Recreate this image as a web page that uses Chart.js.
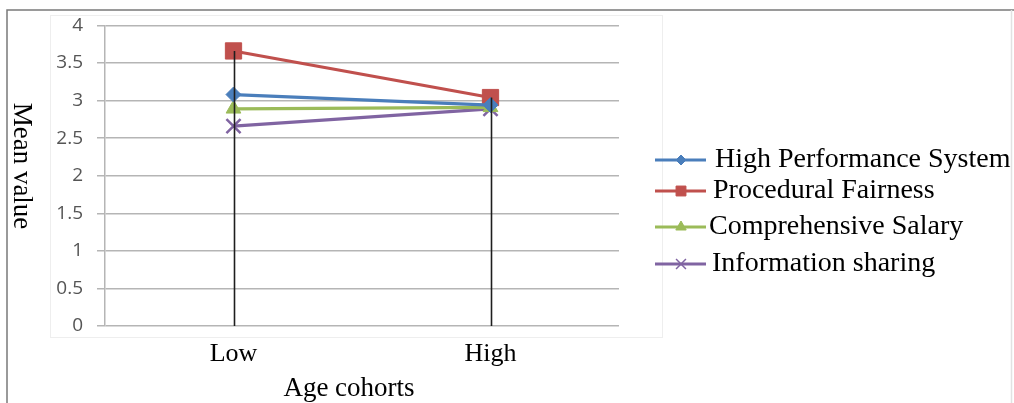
<!DOCTYPE html>
<html>
<head>
<meta charset="utf-8">
<script src="https://cdn.jsdelivr.net/npm/chart.js@4.4.1/dist/chart.umd.min.js"></script>
<style>
  html, body { margin: 0; padding: 0; background: #fff; }
  #wrap { width: 1014px; height: 403px; position: relative; }
</style>
</head>
<body>
<div id="wrap"><canvas id="chart"></canvas></div>
<script>
// data
const categories = ["Low", "High"];
const yTickLabels = ["0", "0.5", "1", "1.5", "2", "2.5", "3", "3.5", "4"];
const seriesNames = ["High Performance System", "Procedural Fairness", "Comprehensive Salary", "Information sharing"];
const highPerformance = [3.08, 2.94];
const proceduralFairness = [3.66, 3.04];
const comprehensiveSalary = [2.89, 2.91];
const informationSharing = [2.66, 2.89];

const colors = ["#4a7ebb", "#c0504d", "#9bbb59", "#8064a2"];
const serif = "'Liberation Serif', 'Times New Roman', serif";

function makeSet(i, data, style, radius) {
  return {
    label: seriesNames[i],
    data: data,
    borderColor: colors[i],
    backgroundColor: colors[i],
    borderWidth: 3.2,
    pointStyle: style,
    pointRadius: radius,
    pointBorderWidth: style === 'crossRot' ? 2.5 : 1,
    pointBackgroundColor: colors[i],
    pointBorderColor: colors[i],
    tension: 0
  };
}

// frame, titles, legend and drop lines
const extras = {
  id: 'extras',
  beforeDraw(chart) {
    const ctx = chart.ctx;
    ctx.save();
    ctx.fillStyle = "#fff";
    ctx.fillRect(0, 0, chart.width, chart.height);
    ctx.strokeStyle = "#eeeeee";
    ctx.lineWidth = 1;
    ctx.strokeRect(50.5, 15.5, 612, 322);
    ctx.strokeStyle = "#7a7a7a";
    ctx.lineWidth = 1.5;
    ctx.beginPath();
    ctx.moveTo(7, 403); ctx.lineTo(7, 10); ctx.lineTo(1014, 10);
    ctx.stroke();
    ctx.strokeStyle = "#e2e2e2";
    ctx.beginPath();
    ctx.moveTo(1011.5, 10); ctx.lineTo(1011.5, 403);
    ctx.stroke();
    ctx.restore();
  },
  afterDatasetsDraw(chart) {
    const ctx = chart.ctx;
    const x = chart.scales.x, y = chart.scales.y;
    ctx.save();
    ctx.strokeStyle = "#1e1e1e";
    ctx.lineWidth = 1.6;
    categories.forEach((c, i) => {
      const top = Math.max(...chart.data.datasets.map(d => d.data[i]));
      const px = Math.round(x.getPixelForValue(i)) + 0.5;
      ctx.beginPath();
      ctx.moveTo(px, y.getPixelForValue(top));
      ctx.lineTo(px, y.getPixelForValue(0));
      ctx.stroke();
    });

    // axis titles
    ctx.fillStyle = "#000";
    ctx.font = "27px " + serif;
    ctx.textAlign = "center";
    ctx.textBaseline = "middle";
    ctx.fillText("Age cohorts", 349, 389);
    ctx.save();
    ctx.translate(21, 166);
    ctx.rotate(Math.PI / 2);
    ctx.fillText("Mean value", 0, 0);
    ctx.restore();

    // legend
    const rows = [160, 191, 227, 264];
    const textX = [715, 713, 709, 712];
    const legendRadius = [5, 7, 6, 7];
    chart.data.datasets.forEach((ds, i) => {
      const ly = rows[i];
      ctx.strokeStyle = ds.borderColor;
      ctx.lineWidth = 3.2;
      ctx.beginPath();
      ctx.moveTo(655, ly); ctx.lineTo(706, ly);
      ctx.stroke();
      ctx.fillStyle = ds.borderColor;
      ctx.lineWidth = ds.pointStyle === 'crossRot' ? 1.5 : 1;
      Chart.helpers.drawPoint(ctx, {
        pointStyle: ds.pointStyle, rotation: 0, radius: legendRadius[i], borderWidth: 1
      }, 681, ly);
      ctx.fillStyle = "#000";
      ctx.font = "28px " + serif;
      ctx.textAlign = "left";
      ctx.fillText(ds.label, textX[i], ly);
    });
    ctx.restore();
  }
};

new Chart(document.getElementById("chart"), {
  type: 'line',
  data: {
    labels: categories,
    datasets: [
      makeSet(0, highPerformance, 'rectRot', 7.5),
      makeSet(1, proceduralFairness, 'rect', 11.5),
      makeSet(2, comprehensiveSalary, 'triangle', 8.5),
      makeSet(3, informationSharing, 'crossRot', 10)
    ]
  },
  options: {
    responsive: true,
    maintainAspectRatio: false,
    animation: false,
    events: [],
    layout: { padding: { left: 0, right: 395, top: 24, bottom: 0 } },
    plugins: { legend: { display: false }, tooltip: { enabled: false } },
    scales: {
      x: {
        offset: true,
        grid: { display: false },
        border: { display: false },
        ticks: { color: "#000", font: { family: serif, size: 26 }, padding: 5 },
        afterFit(scale) { scale.height = 77; }
      },
      y: {
        min: 0,
        max: 4,
        ticks: {
          stepSize: 0.5,
          color: "#555555",
          padding: 14,
          font: { family: "'Open Sans', sans-serif", size: 19 },
          callback: (v, i) => yTickLabels[i]
        },
        grid: { color: "#b5b5b5", lineWidth: 1.5, tickLength: 8 },
        border: { color: "#b5b5b5", width: 1.5 },
        afterFit(scale) { scale.width = 105; }
      }
    }
  },
  plugins: [extras]
});
</script>
</body>
</html>
